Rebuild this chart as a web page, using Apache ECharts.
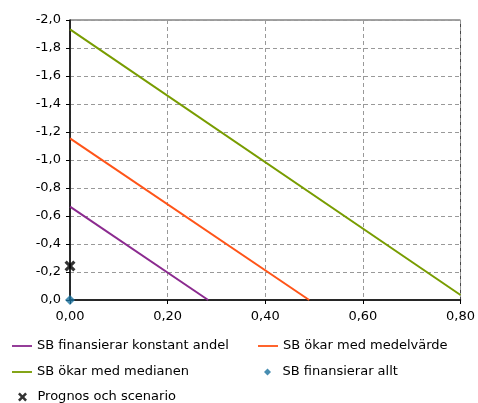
<!DOCTYPE html>
<html><head><meta charset="utf-8">
<script src="https://cdn.jsdelivr.net/npm/echarts@6/dist/echarts.min.js"></script>
<style>html,body{margin:0;padding:0;background:#fff}#c{width:478px;height:403px}</style>
</head><body><div id="c"></div>
<script>
// Data
const seriesNames = ['SB finansierar konstant andel','SB ökar med medelvärde','SB ökar med medianen','SB finansierar allt','Prognos och scenario'];
const purpleX = [0, 0.283];
const purpleY = [-0.667, 0];
const orangeX = [0, 0.49];
const orangeY = [-1.155, 0];
const greenX = [0, 0.80];
const greenY = [-1.933, -0.036];
const allaX = [0];
const allaY = [0];
const prognosX = [0];
const prognosY = [-0.243];
const xTicks = [0, 0.2, 0.4, 0.6, 0.8];
const yTicks = [-2.0, -1.8, -1.6, -1.4, -1.2, -1.0, -0.8, -0.6, -0.4, -0.2, 0.0];

const zip = (xs, ys) => xs.map((x, i) => [x, ys[i]]);
const FONT = 'DejaVu Sans';
const xPath = 'path://M0,2L2,0L5,3L8,0L10,2L7,5L10,8L8,10L5,7L2,10L0,8L3,5Z';
const linePath = 'path://M0,0L22,0L22,2L0,2Z';
const diamondPath = 'path://M5,0L10,5L5,10L0,5Z';

const chart = echarts.init(document.getElementById('c'));
const legendBase = (item, left, top, extra) => Object.assign({
  data: [item], left: left, top: top, padding: 0, itemWidth: 20, itemHeight: 14,
  symbolKeepAspect: true,
  textStyle: { fontFamily: FONT, fontSize: 13, color: '#000', lineHeight: 14 },
  selectedMode: false
}, extra || {});

chart.setOption({
  animation: false,
  textStyle: { fontFamily: FONT },
  grid: { left: 70, right: 15, top: 20, bottom: 103, show: true, borderColor: '#444', borderWidth: 1 },
  xAxis: {
    type: 'value', min: xTicks[0], max: xTicks[xTicks.length-1], interval: 0.2,
    axisLine: { lineStyle: { color: '#000', width: 1.5 } },
    axisTick: { show: true, length: 4, lineStyle: { color: '#000' } },
    axisLabel: { fontFamily: FONT, fontSize: 13, color: '#000', margin: 10,
      formatter: v => v.toFixed(2).replace('.', ',') },
    splitLine: { show: true, lineStyle: { color: '#999', type: [4, 3] } }
  },
  yAxis: {
    type: 'value', inverse: true, min: yTicks[0], max: yTicks[yTicks.length-1], interval: 0.2,
    axisLine: { show: true, lineStyle: { color: '#000', width: 1.5 } },
    axisTick: { show: true, length: 4, lineStyle: { color: '#000' } },
    axisLabel: { fontFamily: FONT, fontSize: 13, color: '#000', margin: 9,
      formatter: v => (Math.abs(v) < 1e-9 ? 0 : v).toFixed(1).replace('.', ',') },
    splitLine: { show: true, lineStyle: { color: '#999', type: [4, 3] } }
  },
  legend: [
    legendBase({ name: seriesNames[0], icon: linePath }, 12, 339),
    legendBase({ name: seriesNames[1], icon: linePath }, 258, 339),
    legendBase({ name: seriesNames[2], icon: linePath }, 12, 365),
    legendBase({ name: seriesNames[3], icon: diamondPath }, 264, 365, { itemHeight: 7 }),
    legendBase({ name: seriesNames[4], icon: xPath }, 18, 390, { itemHeight: 9 })
  ],
  series: [
    { name: seriesNames[0], type: 'line', data: zip(purpleX, purpleY), symbol: 'none',
      lineStyle: { color: '#8b2a8f', width: 2 }, itemStyle: { color: '#8b2a8f' } },
    { name: seriesNames[1], type: 'line', data: zip(orangeX, orangeY), symbol: 'none',
      lineStyle: { color: '#ff5418', width: 2 }, itemStyle: { color: '#ff5418' } },
    { name: seriesNames[2], type: 'line', data: zip(greenX, greenY), symbol: 'none',
      lineStyle: { color: '#789c00', width: 2 }, itemStyle: { color: '#789c00' } },
    { name: seriesNames[3], type: 'scatter', data: zip(allaX, allaY), symbol: 'diamond', symbolSize: 10,
      clip: false, z: 5, itemStyle: { color: '#19709e' } },
    { name: seriesNames[4], type: 'scatter', data: zip(prognosX, prognosY), symbol: xPath, symbolSize: 11,
      clip: false, z: 5, itemStyle: { color: '#000' } }
  ]
});
</script>
</body></html>
